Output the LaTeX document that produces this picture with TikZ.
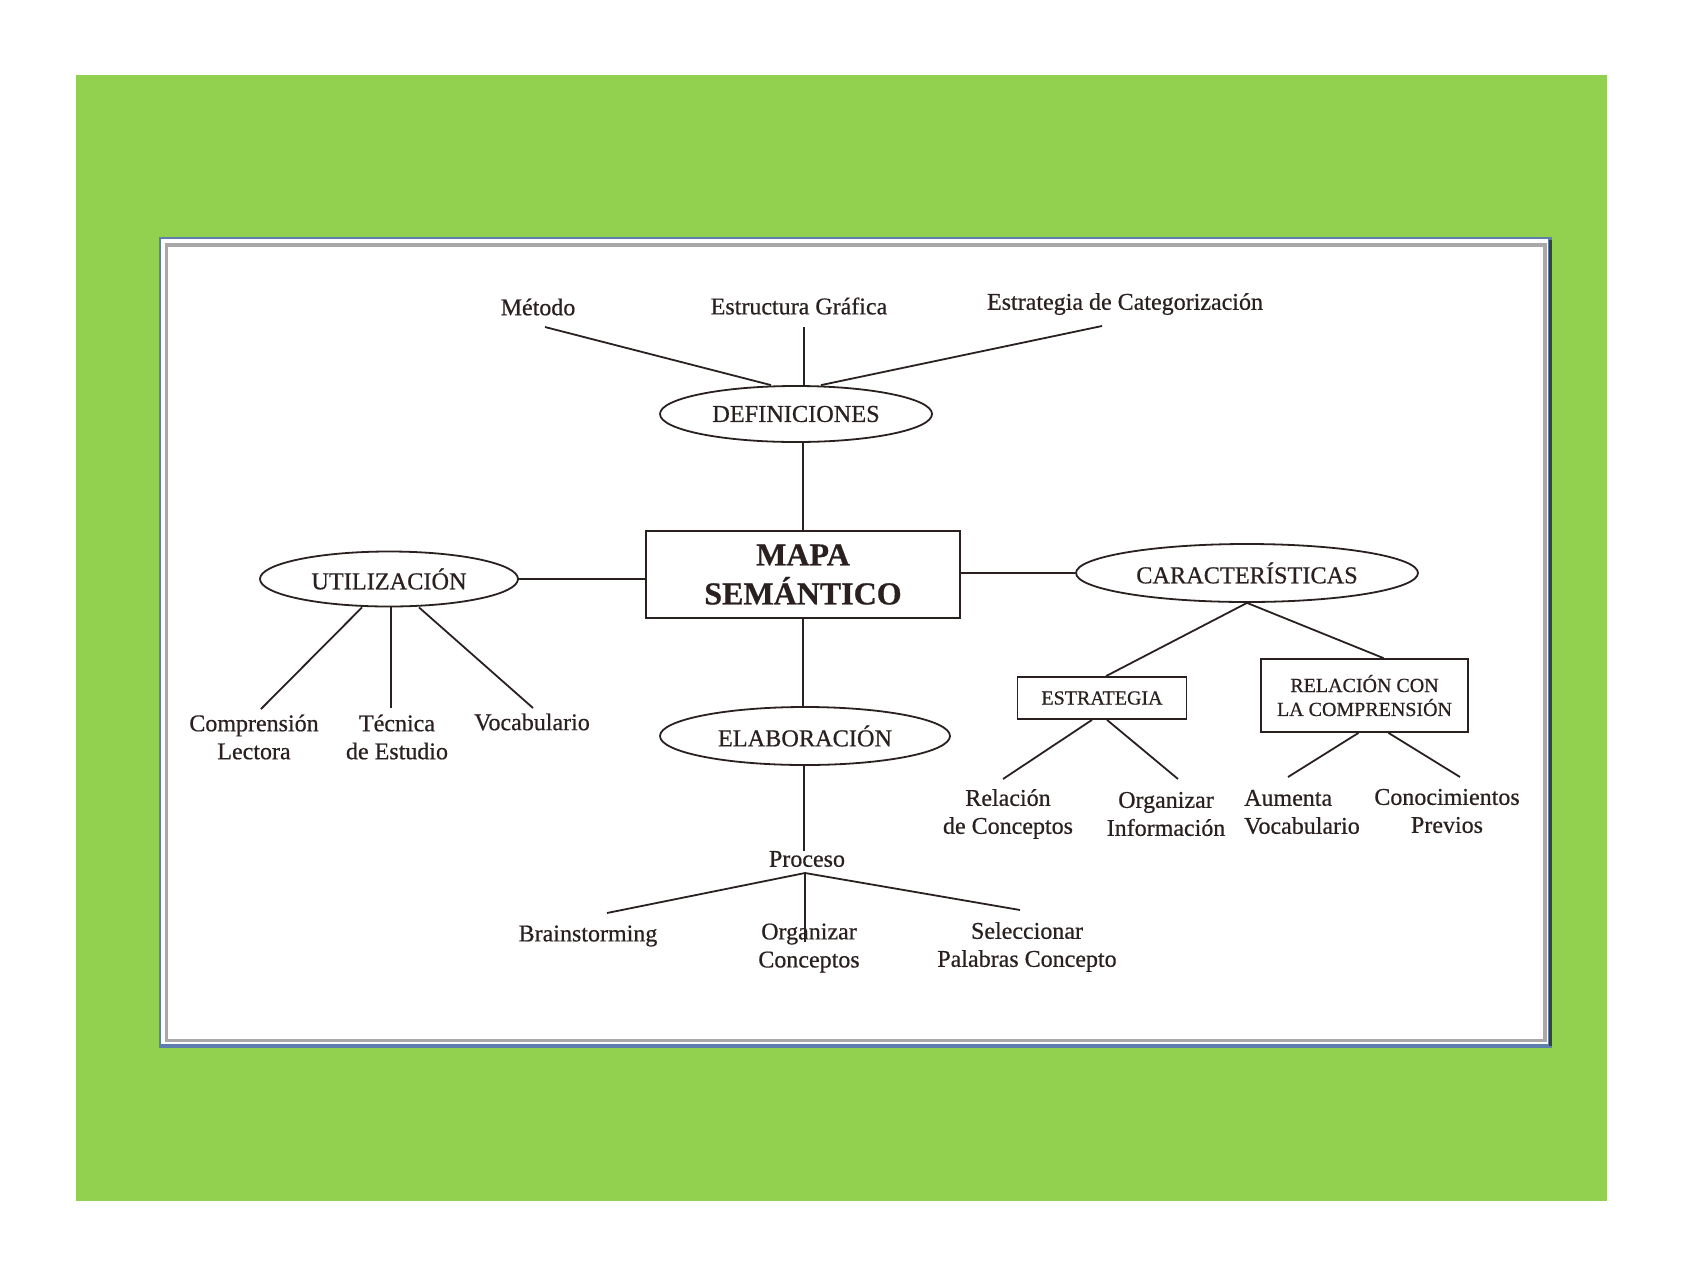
\documentclass[tikz,border=0pt]{standalone}
\usepackage{fontspec}
\setmainfont{Liberation Serif}[FakeBold=0.6]
\usetikzlibrary{shapes.geometric}
\definecolor{bggreen}{HTML}{92D050}
\definecolor{ink}{HTML}{2B2020}
\definecolor{frameblue}{HTML}{5E7FAE}
\definecolor{framegray}{HTML}{A8A8A8}
\definecolor{framedark}{HTML}{3A4048}
\begin{document}
\begin{tikzpicture}[x=1pt,y=-1pt,
  lbl/.style={text=ink, font=\fontsize{24}{28}\selectfont, align=center, inner sep=0pt},
  oval/.style={ellipse, draw=ink, line width=1.8pt, text=ink, font=\fontsize{24.3}{28}\selectfont, inner sep=0pt},
  boxed/.style={rectangle, draw=ink, line width=1.8pt, text=ink, align=center, inner sep=0pt},
  conn/.style={draw=ink, line width=1.8pt}
]
% page and background
\useasboundingbox (0,0) rectangle (1683,1275);
\fill[white] (0,0) rectangle (1683,1275);
\fill[bggreen] (76,75) rectangle (1607,1201);
% frame
\fill[frameblue] (159,237) rectangle (1552,1048);
\fill[framedark] (1548.5,240) rectangle (1552,1046);
\fill[white] (161,239) rectangle (1548,1044);
\fill[framegray] (165,243) rectangle (1547,1042);
\fill[white] (168,247) rectangle (1543,1039);

% nodes
\node[lbl] (met) at (538,307) {Método};
\node[lbl] (est) at (799,306) {Estructura Gráfica};
\node[lbl] (cat) at (1125,304) {Estrategia de Categorización};
\node[oval, minimum width=272pt, minimum height=56pt] (def) at (796,414) {DEFINICIONES};
\node[boxed, minimum width=314pt, minimum height=87pt,
      font=\bfseries\fontsize{32}{39}\selectfont] (mapa) at (803,574.5) {\raisebox{-3pt}{MAPA}\\\raisebox{-3pt}{SEMÁNTICO}};
\node[oval, minimum width=258pt, minimum height=55pt] (uti) at (389,579) {UTILIZACIÓN};
\node[oval, minimum width=342pt, minimum height=58pt] (car) at (1247,573) {CARACTERÍSTICAS};
\node[oval, minimum width=290pt, minimum height=58pt] (ela) at (805,736) {ELABORACIÓN};
\node[boxed, minimum width=169pt, minimum height=42pt,
      font=\fontsize{20}{24}\selectfont] (estr) at (1102,698) {ESTRATEGIA};
\node[boxed, minimum width=207pt, minimum height=73pt,
      font=\fontsize{20}{24}\selectfont] (rel) at (1364.5,695.5) {RELACIÓN CON\\LA COMPRENSIÓN};

\node[lbl] (com) at (254,737) {Comprensión\\Lectora};
\node[lbl] (tec) at (397,737) {Técnica\\de Estudio};
\node[lbl] (voc) at (532,722) {Vocabulario};
\node[lbl] (rco) at (1008,814) {Relación\\de Conceptos};
\node[lbl] (oin) at (1166,814) {Organizar\\Información};
\node[lbl, align=left, anchor=west] (aum) at (1244,812) {Aumenta\\Vocabulario};
\node[lbl] (con) at (1447,811) {Conocimientos\\Previos};
\node[lbl] (pro) at (807,859) {Proceso};
\node[lbl] (bra) at (588,936) {Brainstorming};
\node[lbl] (org) at (809,948) {Organizar\\Conceptos};
\node[lbl] (sel) at (1027,947) {Seleccionar\\Palabras Concepto};

% free ends of connectors
\coordinate (metl) at (545,327);
\coordinate (estl) at (804,327);
\coordinate (catl) at (1102,326);
\coordinate (coml) at (261,709);
\coordinate (tecl) at (391,708);
\coordinate (vocl) at (533,708);
\coordinate (rcol) at (1003,779);
\coordinate (oinl) at (1178,779);
\coordinate (auml) at (1288,777);
\coordinate (conl) at (1460,777);
\coordinate (proj) at (805,873);
\coordinate (bral) at (607,913);
\coordinate (orgl) at (805,942);
\coordinate (sell) at (1020,910);

% connectors
\draw[conn] (metl) -- ([xshift=-25pt]def.north);
\draw[conn] (estl) -- (estl |- def.north);
\draw[conn] (catl) -- ([xshift=25pt]def.north);
\draw[conn] (mapa.north |- def.south) -- (mapa.north);
\draw[conn] (uti.east) -- (uti.east -| mapa.west);
\draw[conn] (mapa.east |- car.west) -- (car.west);
\draw[conn] (mapa.south) -- (mapa.south |- ela.north);
\draw[conn] (ela.south -| estl) -- (estl |- pro.north);
\draw[conn] ([xshift=-27pt]uti.south) -- (coml);
\draw[conn] ([xshift=2pt]uti.south) -- (tecl);
\draw[conn] ([xshift=30pt]uti.south) -- (vocl);
\draw[conn] (car.south) -- ([xshift=4pt]estr.north);
\draw[conn] (car.south) -- ([xshift=19pt]rel.north);
\draw[conn] ([xshift=-10pt]estr.south) -- (rcol);
\draw[conn] ([xshift=5pt]estr.south) -- (oinl);
\draw[conn] ([xshift=-6pt]rel.south) -- (auml);
\draw[conn] ([xshift=24pt]rel.south) -- (conl);
\draw[conn] (proj) -- (bral);
\draw[conn] (proj) -- (orgl);
\draw[conn] (proj) -- (sell);
\end{tikzpicture}
\end{document}
